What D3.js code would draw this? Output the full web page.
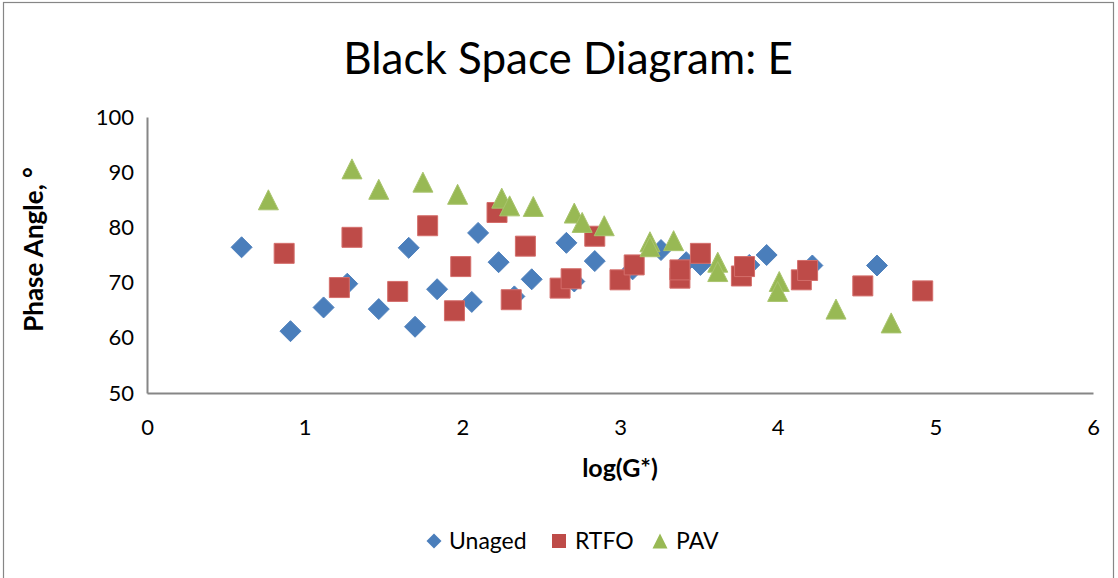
<!DOCTYPE html>
<html>
<head>
<meta charset="utf-8">
<script src="https://cdn.jsdelivr.net/npm/d3@7"></script>
<style>
  html, body { margin: 0; padding: 0; background: #fff; }
  svg { display: block; font-family: Lato, "Open Sans", sans-serif; }
</style>
</head>
<body>
<svg id="chart" width="1118" height="578"></svg>
<script>
// Black space diagram: phase angle against log(G*) for three ageing states
const seriesNames = ["Unaged", "RTFO", "PAV"];

const unagedX = [0.60, 0.91, 1.12, 1.27, 1.47, 1.66, 1.70, 1.84, 2.06, 2.10, 2.23, 2.33,
                 2.44, 2.66, 2.71, 2.84, 3.08, 3.26, 3.42, 3.51, 3.82, 3.93, 4.22, 4.63];
const unagedY = [76.4, 61.2, 65.5, 69.8, 65.2, 76.3, 62.0, 68.8, 66.5, 79.0, 73.7, 67.5,
                 70.6, 77.2, 70.2, 73.9, 72.4, 75.9, 73.7, 73.2, 73.2, 75.0, 73.1, 73.1];

const rtfoX = [0.87, 1.22, 1.30, 1.59, 1.78, 1.99, 1.95, 2.22, 2.40, 2.31, 2.62, 2.69,
               2.84, 3.00, 3.09, 3.38, 3.38, 3.51, 3.77, 3.79, 4.15, 4.19, 4.54, 4.92];
const rtfoY = [75.3, 69.1, 78.2, 68.4, 80.3, 72.9, 64.9, 82.7, 76.6, 66.9, 69.0, 70.7,
               78.4, 70.5, 73.2, 70.8, 72.3, 75.3, 71.2, 72.9, 70.5, 72.2, 69.4, 68.5];

const pavX = [0.77, 1.30, 1.47, 1.75, 1.97, 2.25, 2.30, 2.45, 2.71, 2.76, 2.90, 3.19,
              3.19, 3.34, 3.62, 3.62, 4.01, 4.00, 4.37, 4.72];
const pavY = [85.0, 90.6, 86.9, 88.2, 86.0, 85.3, 83.9, 83.8, 82.6, 80.9, 80.3, 77.4,
              76.5, 77.6, 73.7, 72.0, 70.2, 68.4, 65.2, 62.7];

const xTicks = [0, 1, 2, 3, 4, 5, 6];
const yTicks = [50, 60, 70, 80, 90, 100];

const titleText = "Black Space Diagram: E";
const xTitle = "log(G*)";
const yTitle = "Phase Angle, °";

// marker shapes: diamond (rotated square), square, isosceles triangle
const diamondType = {
  draw(ctx, size) {
    const r = Math.sqrt(size) / 2;
    ctx.moveTo(0, -r); ctx.lineTo(r, 0); ctx.lineTo(0, r); ctx.lineTo(-r, 0); ctx.closePath();
  }
};
const squareType = {
  draw(ctx, size) {
    const r = Math.sqrt(size) / 2;
    ctx.rect(-r, -r, 2 * r, 2 * r);
  }
};
const triangleType = {
  draw(ctx, size) {
    const r = Math.sqrt(size) / 2;
    ctx.moveTo(0, -r); ctx.lineTo(r, r); ctx.lineTo(-r, r); ctx.closePath();
  }
};

const series = [
  { name: seriesNames[0], xs: unagedX, ys: unagedY, type: diamondType, size: 21 * 21, legendSize: 15 * 15, fill: "#4A7EBB", stroke: "#4F81BD" },
  { name: seriesNames[1], xs: rtfoX, ys: rtfoY, type: squareType, size: 20 * 20, legendSize: 14 * 14, fill: "#BE4B48", stroke: "#D46E6B" },
  { name: seriesNames[2], xs: pavX, ys: pavY, type: triangleType, size: 20 * 20, legendSize: 15 * 15, fill: "#98B954", stroke: "#A9C46E" }
];

const svg = d3.select("#chart");

// chart-area frame
svg.append("rect")
  .attr("x", 3.5).attr("y", 2.5)
  .attr("width", 1110).attr("height", 600)
  .attr("fill", "#fff").attr("stroke", "#868686").attr("stroke-width", 1.2);

const x = d3.scaleLinear().domain([0, 6]).range([147, 1093]);
const y = d3.scaleLinear().domain([50, 100]).range([393, 117]);

// title
svg.append("text")
  .attr("x", 568).attr("y", 74)
  .attr("text-anchor", "middle")
  .attr("font-size", 44)
  .attr("fill", "#000")
  .text(titleText);

// axes
const xAxis = svg.append("g")
  .attr("transform", `translate(0,${y(50)})`)
  .call(d3.axisBottom(x).tickValues(xTicks).tickSize(0).tickPadding(26).tickFormat(d3.format("d")));
const yAxis = svg.append("g")
  .attr("transform", `translate(${x(0)},0)`)
  .call(d3.axisLeft(y).tickValues(yTicks).tickSize(0).tickPadding(13).tickFormat(d3.format("d")));

[xAxis, yAxis].forEach(g => {
  g.select(".domain").attr("stroke", "#868686").attr("stroke-width", 2);
  g.selectAll("text").attr("font-size", 22).attr("fill", "#000").attr("font-family", "Lato, 'Open Sans', sans-serif");
});

// axis titles
svg.append("text")
  .attr("x", 620).attr("y", 477)
  .attr("text-anchor", "middle")
  .attr("font-size", 25).attr("font-weight", "bold")
  .text(xTitle);

svg.append("text")
  .attr("transform", `translate(43,${y(76)}) rotate(-90)`)
  .attr("text-anchor", "middle")
  .attr("font-size", 26).attr("font-weight", "bold")
  .text(yTitle);

// data points
series.forEach(s => {
  const pts = s.xs.map((v, i) => [v, s.ys[i]]);
  svg.append("g")
    .selectAll("path")
    .data(pts)
    .join("path")
    .attr("transform", d => `translate(${x(d[0])},${y(d[1])})`)
    .attr("d", d3.symbol().type(s.type).size(s.size))
    .attr("fill", s.fill)
    .attr("stroke", s.stroke)
    .attr("stroke-width", 1);
});

// legend
const legendPos = [[434, 449], [559, 575], [660, 676]];
const legend = svg.append("g");
series.forEach((s, i) => {
  const [mx, tx] = legendPos[i];
  legend.append("path")
    .attr("transform", `translate(${mx},541)`)
    .attr("d", d3.symbol().type(s.type).size(s.legendSize))
    .attr("fill", s.fill);
  legend.append("text")
    .attr("x", tx).attr("y", 549)
    .attr("font-size", 23)
    .text(s.name);
});
</script>
</body>
</html>
